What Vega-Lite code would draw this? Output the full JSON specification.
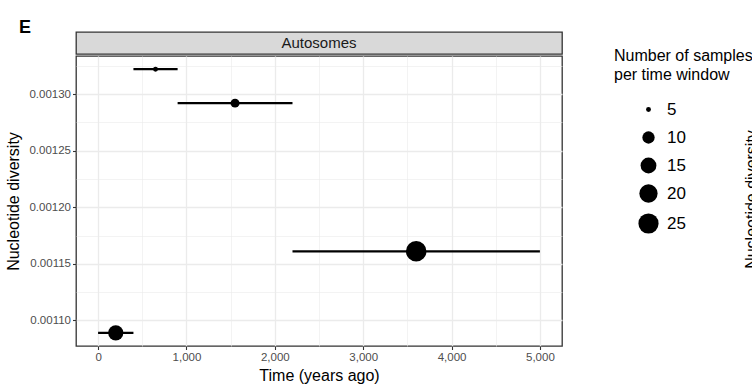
{
  "$schema": "https://vega.github.io/schema/vega-lite/v6.json",
  "padding": {"left": 5, "top": 19, "right": 0, "bottom": 0},
  "title": {"text": "E", "anchor": "start", "frame": "group", "dx": -57, "offset": -6, "fontSize": 18, "fontWeight": "bold", "color": "#000000", "font": "Liberation Sans"},
  "datasets": {
    "strip": [{"panel": "Autosomes"}],
    "pts": [
      {"time": 650, "lo": 400, "hi": 900, "div": 0.001322, "n": 5},
      {"time": 1550, "lo": 900, "hi": 2200, "div": 0.001292, "n": 7},
      {"time": 3600, "lo": 2200, "hi": 5000, "div": 0.001161, "n": 26},
      {"time": 200, "lo": 0, "hi": 400, "div": 0.001089, "n": 14}
    ]
  },
  "spacing": 180,
  "hconcat": [
    {
      "spacing": 0,
      "vconcat": [
        {
          "width": 486,
          "height": 22,
          "data": {"name": "strip"},
          "view": {"fill": "#D9D9D9", "stroke": "#333333", "strokeWidth": 1.3},
          "mark": {"type": "text", "fontSize": 15, "color": "#1A1A1A", "font": "Liberation Sans", "baseline": "middle", "align": "center"},
          "encoding": {"text": {"field": "panel", "type": "nominal"}}
        },
        {
          "width": 486,
          "height": 290,
          "data": {"name": "pts"},
          "view": {"stroke": "#333333", "strokeWidth": 1.3},
          "encoding": {
            "y": {
              "field": "div", "type": "quantitative",
              "scale": {"domain": [0.00107735, 0.00133365], "nice": false, "zero": false},
              "axis": {
                "title": "Nucleotide diversity",
                "values": [0.0011, 0.001125, 0.00115, 0.001175, 0.0012, 0.001225, 0.00125, 0.001275, 0.0013, 0.001325],
                "format": ".5f",
                "labelExpr": "round(datum.value*1e6) % 50 === 0 ? datum.label : ''",
                "labelOverlap": false,
                "labelFlush": false,
                "domain": false,
                "gridColor": "#EBEBEB",
                "gridWidth": {"condition": {"test": "round(datum.value*1e6) % 50 === 0", "value": 1.3}, "value": 0.6},
                "tickOpacity": {"condition": {"test": "round(datum.value*1e6) % 50 === 0", "value": 1}, "value": 0},
                "tickColor": "#333333", "tickSize": 3.5, "tickWidth": 1.1,
                "labelColor": "#4D4D4D", "labelFontSize": 11.5, "labelPadding": 2,
                "titleFontSize": 16, "titleFontWeight": "normal", "titleColor": "#000000", "titlePadding": 7
              }
            }
          },
          "layer": [
            {
              "mark": {"type": "rule", "color": "#000000", "strokeWidth": 2.2},
              "encoding": {
                "x": {"field": "lo", "type": "quantitative",
                  "scale": {"domain": [-250, 5250], "nice": false, "zero": false},
                  "axis": {
                    "title": "Time (years ago)",
                    "values": [0, 500, 1000, 1500, 2000, 2500, 3000, 3500, 4000, 4500, 5000],
                    "format": ",.0f",
                    "labelExpr": "datum.value % 1000 === 0 ? datum.label : ''",
                    "labelOverlap": false,
                    "labelFlush": false,
                    "domain": false,
                    "gridColor": "#EBEBEB",
                    "gridWidth": {"condition": {"test": "datum.value % 1000 === 0", "value": 1.3}, "value": 0.6},
                    "tickOpacity": {"condition": {"test": "datum.value % 1000 === 0", "value": 1}, "value": 0},
                    "tickColor": "#333333", "tickSize": 3.5, "tickWidth": 1.1,
                    "labelColor": "#4D4D4D", "labelFontSize": 11.5, "labelPadding": 2,
                    "titleFontSize": 16, "titleFontWeight": "normal", "titleColor": "#000000", "titlePadding": 4
                  }
                },
                "x2": {"field": "hi"}
              }
            },
            {
              "mark": {"type": "point", "filled": true, "color": "#000000", "opacity": 1, "strokeWidth": 0, "shape": "circle"},
              "encoding": {
                "x": {"field": "time", "type": "quantitative"},
                "size": {
                  "field": "n", "type": "quantitative",
                  "scale": {"type": "sqrt", "domain": [5, 26], "range": [24, 420], "zero": false},
                  "legend": {
                    "title": ["Number of samples", "per time window"],
                    "values": [5, 10, 15, 20, 25],
                    "orient": "none", "legendX": 538, "legendY": 16,
                    "symbolFillColor": "#000000", "symbolStrokeWidth": 0, "symbolType": "circle", "symbolOpacity": 1,
                    "titleFontSize": 16, "titleFontWeight": "normal", "titleColor": "#000000", "titleLineHeight": 19, "titlePadding": 18,
                    "labelFontSize": 17, "labelColor": "#000000", "labelOffset": 8,
                    "rowPadding": 10, "symbolOffset": 24
                  }
                }
              }
            }
          ]
        }
      ]
    },
    {
      "width": 200,
      "height": 312,
      "data": {"name": "pts"},
      "view": {"stroke": null},
      "mark": {"type": "point", "filled": true, "color": "#000000", "opacity": 1},
      "encoding": {
        "x": {"field": "time", "type": "quantitative", "axis": null},
        "y": {
          "field": "div", "type": "quantitative",
          "scale": {"zero": false},
          "axis": {
            "title": "Nucleotide diversity", "titleY": 167,
            "grid": false, "labels": false, "ticks": false, "domain": false,
            "titleFontSize": 16, "titleFontWeight": "normal", "titleColor": "#000000", "titlePadding": 0
          }
        }
      }
    }
  ],
  "config": {"font": "Liberation Sans", "axis": {"grid": true}}
}
